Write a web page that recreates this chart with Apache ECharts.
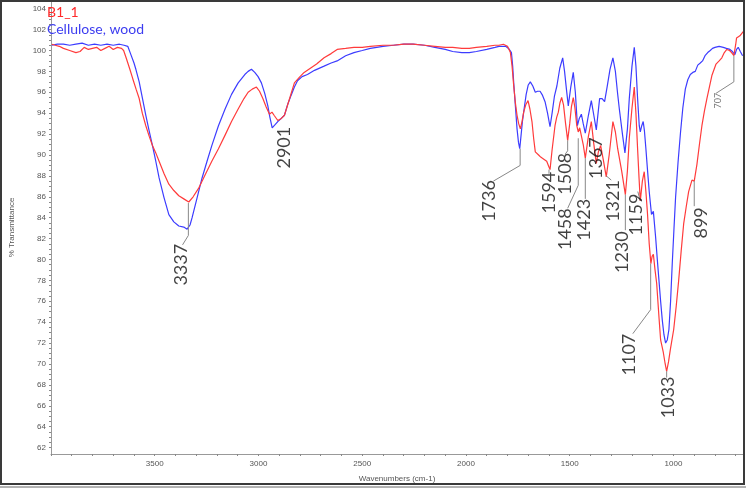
<!DOCTYPE html>
<html><head><meta charset="utf-8">
<script src="https://cdn.jsdelivr.net/npm/echarts@6/dist/echarts.min.js"></script>
<style>html,body{margin:0;padding:0;background:#fff}#c{width:746px;height:488px}</style>
</head><body><div id="c"></div>
<script>
// ---- data ----
const seriesNames = ['B1_1', 'Cellulose, wood'];
const redWn = [3996,3980,3960,3940,3910,3880,3860,3840,3820,3800,3780,3760,3740,3720,3700,3680,3660,3650,3638,3620,3606,3590,3575,3560,3543,3527,3511,3495,3479,3455,3432,3408,3384,3360,3336,3315,3289,3257,3225,3193,3161,3130,3098,3070,3050,3030,3010,2995,2979,2963,2947,2935,2925,2907,2890,2875,2850,2827,2800,2780,2750,2720,2684,2650,2621,2580,2540,2500,2461,2400,2350,2300,2255,2200,2150,2100,2064,2020,1984,1950,1900,1860,1841,1820,1800,1786,1778,1770,1762,1754,1746,1738,1730,1722,1712,1701,1692,1682,1674,1666,1650,1640,1634,1625,1611,1603,1595,1585,1571,1563,1555,1547,1539,1530,1520,1510,1500,1492,1483,1475,1466,1459,1452,1444,1435,1425,1410,1396,1385,1372,1362,1351,1338,1324,1310,1292,1280,1269,1250,1232,1222,1213,1200,1189,1181,1173,1166,1160,1150,1141,1133,1125,1117,1109,1103,1097,1089,1081,1070,1062,1049,1040,1033,1024,1015,999,987,975,963,951,939,927,911,900,887,875,863,851,839,827,815,795,780,767,755,743,730,720,709,700,696,688,680,672,664];
const redT = [100.6,100.5,100.4,100.2,100.0,99.8,99.9,100.3,100.1,100.2,100.3,100.0,100.2,100.4,100.1,100.3,100.2,100.0,99.3,98.2,97.3,96.3,95.4,94.0,92.8,91.8,90.9,90.2,89.4,88.2,87.2,86.6,86.1,85.8,85.5,86.0,86.8,88.1,89.4,90.6,91.9,93.2,94.4,95.4,96.0,96.3,96.5,96.1,95.4,94.6,93.9,94.1,93.8,93.3,93.5,93.8,95.4,96.9,97.5,97.9,98.3,98.7,99.3,99.7,100.1,100.2,100.3,100.3,100.4,100.5,100.5,100.6,100.6,100.5,100.4,100.3,100.3,100.2,100.2,100.3,100.4,100.5,100.5,100.6,100.4,99.8,98.5,96.6,95.0,93.8,93.0,92.5,93.2,94.1,94.8,95.2,94.4,93.2,91.6,90.3,90.0,89.8,89.7,89.6,89.4,89.0,88.6,90.5,92.8,93.6,94.1,95.0,95.5,94.8,93.0,91.4,93.0,94.6,95.5,94.5,92.8,92.2,92.6,92.5,91.0,89.7,91.8,93.2,91.2,89.2,90.3,90.9,89.5,87.9,90.0,93.2,92.2,90.6,88.5,86.2,88.5,91.6,94.5,96.5,94.0,90.6,87.8,85.6,87.5,88.4,86.5,84.3,81.5,79.6,80.3,80.5,79.0,77.7,74.5,72.3,71.1,70.0,69.3,70.2,71.4,73.3,75.5,78.0,80.8,83.4,85.0,86.5,87.6,87.5,89.1,91.0,92.8,94.2,95.4,96.5,97.6,98.7,99.0,99.3,99.8,100.1,100.0,99.8,99.5,100.6,101.2,101.2,101.4,101.5,101.8];
const blueWn = [3996,3970,3940,3910,3880,3850,3820,3790,3760,3730,3700,3670,3648,3630,3615,3600,3591,3575,3559,3543,3527,3511,3495,3479,3455,3432,3408,3384,3360,3344,3330,3320,3296,3272,3248,3225,3193,3161,3130,3098,3066,3050,3034,3018,3002,2986,2970,2955,2945,2934,2920,2907,2890,2875,2860,2843,2827,2812,2790,2764,2730,2684,2650,2621,2580,2540,2500,2461,2400,2350,2300,2255,2200,2150,2100,2064,2020,1984,1950,1900,1860,1841,1820,1809,1795,1781,1775,1770,1762,1754,1747,1741,1735,1728,1722,1710,1700,1690,1678,1666,1655,1643,1631,1619,1607,1595,1585,1574,1562,1548,1534,1525,1516,1507,1495,1483,1473,1463,1454,1444,1435,1425,1410,1396,1384,1372,1356,1344,1332,1320,1306,1292,1280,1270,1261,1246,1234,1222,1213,1200,1189,1181,1173,1165,1160,1153,1146,1140,1133,1125,1117,1106,1097,1086,1078,1070,1062,1054,1046,1038,1030,1022,1014,1006,998,990,978,966,955,943,931,919,907,895,883,871,860,848,835,823,812,800,780,760,745,728,716,704,696,688,678,667];
const blueT = [100.5,100.6,100.6,100.5,100.6,100.7,100.5,100.6,100.5,100.6,100.5,100.6,100.5,100.4,99.6,98.8,98.2,97.0,95.4,93.8,92.3,90.9,89.4,87.8,85.9,84.3,83.6,83.2,83.1,82.9,83.3,84.0,85.9,87.8,89.4,90.9,92.8,94.4,95.8,96.9,97.7,98.0,98.2,97.9,97.5,96.9,95.9,94.7,93.6,92.6,92.9,93.2,93.5,93.8,94.8,95.7,96.5,97.1,97.5,97.7,98.1,98.5,98.8,99.0,99.5,99.8,100.0,100.2,100.4,100.5,100.6,100.6,100.5,100.3,100.1,99.9,99.8,99.8,99.9,100.1,100.3,100.4,100.4,100.4,100.2,99.8,98.5,96.9,94.7,92.5,91.2,90.6,91.8,93.2,94.1,95.8,96.7,97.0,96.6,96.0,96.1,96.1,95.7,95.1,94.0,92.7,94.0,95.6,96.6,98.3,99.3,98.0,96.3,94.7,96.5,97.9,96.0,92.8,93.5,93.9,93.0,92.1,93.8,95.2,93.8,92.4,95.4,95.4,95.1,96.5,98.2,99.3,98.0,96.0,94.4,92.0,90.2,92.5,95.4,98.5,100.3,98.5,95.4,92.8,92.2,92.8,93.2,92.3,90.6,88.5,86.5,84.3,84.6,82.1,80.0,78.0,76.0,74.2,72.8,72.0,72.3,73.3,76.0,79.6,82.8,85.9,89.3,92.2,94.5,96.3,97.2,97.7,97.9,98.0,98.6,98.8,99.0,99.5,99.8,100.0,100.2,100.3,100.4,100.3,100.2,100.1,99.9,99.6,100.1,100.3,99.9,99.5];

// peak annotations: label text, text centre (wavenumber, %T)
const peakLabels = ['3337','2901','1736','1594','1508','1458','1423','1367','1321','1230','1159','1107','1033','899','707'];
const peakTextWn = [3371,2875,1887,1600,1523,1520,1431,1372,1292,1246,1181,1213,1027,866,787];
const peakTextT  = [79.5,90.7,85.6,86.4,88.2,82.9,83.8,89.7,85.6,80.7,84.3,70.9,66.8,83.5,95.2];
// leader lines (wavenumber, %T) polylines
const leaderPaths = [
  [[3338,85.4],[3338,82.3],[3366,81.4]],
  [[1739,90.6],[1739,89.0],[1868,87.5]],
  [[1600,88.6],[1600,88.2]],
  [[1510,91.4],[1510,90.4],[1521,90.1]],
  [[1459,91.6],[1459,87.1],[1510,84.9]],
  [[1425,89.7],[1425,85.8]],
  [[1324,88.0],[1300,87.6]],
  [[1232,86.2],[1232,82.8]],
  [[1160,85.6],[1172,86.5]],
  [[1110,79.6],[1110,75.2],[1196,72.9]],
  [[1033,69.3],[1033,68.7]],
  [[900,87.5],[900,85.1]],
  [[709,99.5],[709,97.0],[795,95.9]]
];
const xTickValues = [];
for (let w = 700; w <= 4000; w += 100) xTickValues.push(w);
const xLabelValues = [1000,1500,2000,2500,3000,3500];
const yLabelValues = [];
for (let t = 62; t <= 104; t += 2) yLabelValues.push(t);
const yTickValues = [];
for (let t = 62; t <= 104; t += 0.5) yTickValues.push(t);

// ---- chart ----
const RED = '#ff3b3b', BLUE = '#3c3cff';
const chart = echarts.init(document.getElementById('c'), null, {renderer: 'canvas'});
const zip = (a, b) => a.map((v, i) => [v, b[i]]);
const axisFont = {fontFamily: 'Liberation Sans', fontSize: 8, color: '#555'};
chart.setOption({
  animation: false,
  backgroundColor: '#fff',
  grid: {left: 44, right: 3, top: 1, bottom: 29},
  legend: {
    orient: 'vertical', left: 42, top: 5, itemGap: 3, itemWidth: 0, itemHeight: 14, icon: 'none', padding: 0,
    selectedMode: false,
    textStyle: {fontFamily: 'Lato', fontSize: 14},
    data: [
      {name: seriesNames[0], textStyle: {color: '#ff2a2a'}},
      {name: seriesNames[1], textStyle: {color: '#3c3cf0'}}
    ]
  },
  xAxis: {
    type: 'value', inverse: true, min: 665, max: 4000,
    name: 'Wavenumbers (cm-1)', nameLocation: 'middle', nameGap: 21,
    nameTextStyle: axisFont,
    axisLine: {show: true, lineStyle: {color: '#999', width: 1}},
    axisTick: {show: true, length: 2, customValues: xTickValues, lineStyle: {color: '#888'}},
    axisLabel: {show: true, customValues: xLabelValues, margin: 6, formatter: v => String(v), ...axisFont},
    splitLine: {show: false}
  },
  yAxis: {
    type: 'value', min: 61.385, max: 104.735,
    name: '% Transmittance', nameLocation: 'middle', nameGap: 35, nameRotate: 90,
    nameTextStyle: axisFont,
    axisLine: {show: true, lineStyle: {color: '#999', width: 1}},
    axisTick: {show: true, length: 2, customValues: yTickValues, lineStyle: {color: '#888'}},
    axisLabel: {show: true, customValues: yLabelValues, margin: 5, formatter: v => String(v), ...axisFont},
    splitLine: {show: false}
  },
  series: [
    {
      name: seriesNames[1], type: 'line', showSymbol: false, symbol: 'none',
      data: zip(blueWn, blueT), lineStyle: {color: BLUE, width: 1.2}, itemStyle: {color: BLUE}, z: 3
    },
    {
      name: seriesNames[0], type: 'line', showSymbol: false, symbol: 'none',
      data: zip(redWn, redT), lineStyle: {color: RED, width: 1.2}, itemStyle: {color: RED}, z: 4
    },
    {
      name: 'leaders', type: 'lines', coordinateSystem: 'cartesian2d', polyline: true,
      data: leaderPaths.map(p => ({coords: p})),
      lineStyle: {color: '#888', width: 1, opacity: 1}, z: 5, silent: true
    },
    {
      name: 'peaks', type: 'scatter', symbolSize: 0, silent: true, z: 6,
      data: peakLabels.map((l, i) => ({
        name: l, value: [peakTextWn[i], peakTextT[i]],
        label: l === '707' ? {fontSize: 9, color: '#555'} : {}
      })),
      label: {
        show: true, position: 'inside', rotate: 90, formatter: p => p.name,
        fontFamily: 'Lato', fontSize: 18, color: '#111'
      }
    }
  ],
  graphic: [
    {type: 'rect', shape: {x: 1, y: 1, width: 743, height: 483}, style: {fill: null, stroke: '#3a3a3a', lineWidth: 2}, silent: true, z: 100},
    {type: 'line', shape: {x1: 0, y1: 487, x2: 746, y2: 487}, style: {stroke: '#666', lineWidth: 1}, silent: true, z: 100}
  ]
});
</script></body></html>
